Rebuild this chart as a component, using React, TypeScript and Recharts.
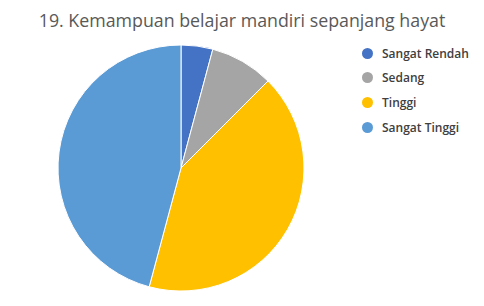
import { PieChart, Pie, Cell, Legend } from 'recharts';

const categories = ['Sangat Rendah', 'Sedang', 'Tinggi', 'Sangat Tinggi'];
const counts = [2, 4, 20, 22];
const colors = ['#4472C4', '#A5A5A5', '#FFC000', '#5B9BD5'];

const data = categories.map((name, i) => ({ name, value: counts[i] }));

function LegendBox() {
  return (
    <div style={{ fontFamily: '"Open Sans", sans-serif', fontSize: 12, fontWeight: 600, color: '#404040' }}>
      {categories.map((c, i) => (
        <div key={c} style={{ display: 'flex', alignItems: 'center', height: 24.6 }}>
          <span
            style={{
              width: 11,
              height: 11,
              borderRadius: '50%',
              background: colors[i],
              display: 'inline-block',
              marginRight: 9,
            }}
          />
          <span>{c}</span>
        </div>
      ))}
    </div>
  );
}

export default function App() {
  return (
    <div style={{ position: 'absolute', left: 0, top: 0, width: 484, height: 306, background: '#fff' }}>
      <div
        style={{
          position: 'absolute',
          top: 8,
          width: 484,
          textAlign: 'center',
          fontFamily: '"Open Sans", sans-serif',
          fontSize: 17.8,
          color: '#595959',
        }}
      >
        19. Kemampuan belajar mandiri sepanjang hayat
      </div>
      <PieChart width={484} height={306} margin={{ top: 0, right: 0, bottom: 0, left: 0 }}>
        <Pie
          data={data}
          dataKey="value"
          nameKey="name"
          cx={181}
          cy={168}
          outerRadius={123}
          startAngle={90}
          endAngle={-270}
          stroke="#fff"
          strokeWidth={1}
          isAnimationActive={false}
        >
          {data.map((d, i) => (
            <Cell key={d.name} fill={colors[i]} />
          ))}
        </Pie>
        <Legend
          layout="vertical"
          content={() => <LegendBox />}
          wrapperStyle={{ left: 362, top: 41, width: 120 }}
        />
      </PieChart>
    </div>
  );
}
